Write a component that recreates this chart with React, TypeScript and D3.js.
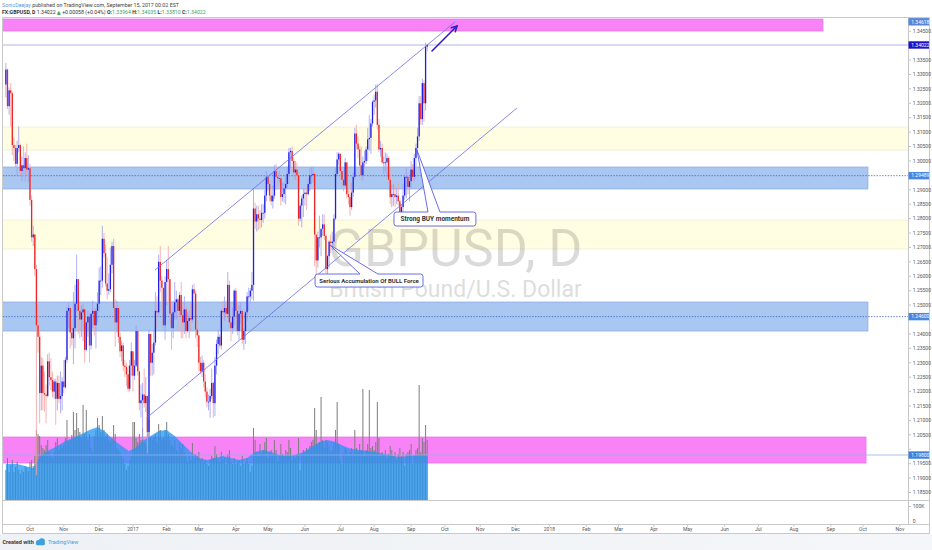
import React from "react";
import * as d3 from "d3";

const W = 932;
const H = 550;
const FONT = "Roboto, 'DejaVu Sans', sans-serif";

const pane = { left: 3, right: 908, top: 18, bottom: 500, sub: 524, axis: 533, frameRight: 929 };

// sessions: TradingView leaves out the two holiday Mondays
const firstSession = "2016-09-12";
const skippedSessions = ["2016-12-26", "2017-01-02"];

const firstOpen = 1.3265;
// FX:GBPUSD daily bars, one row per week, each bar [high, low, close]
const candleWeeks: [number, number, number][][] = [
  [[1.334, 1.322, 1.3317], [1.332, 1.318, 1.319], [1.3255, 1.316, 1.3245], [1.327, 1.312, 1.3235], [1.324, 1.302, 1.3055]],
  [[1.308, 1.3, 1.3045], [1.3055, 1.2975, 1.299], [1.307, 1.295, 1.3045], [1.312, 1.303, 1.3055], [1.306, 1.295, 1.2965]],
  [[1.3015, 1.293, 1.2985], [1.305, 1.2945, 1.2975], [1.303, 1.293, 1.301], [1.306, 1.295, 1.297], [1.302, 1.2925, 1.2975]],
  [[1.299, 1.2845, 1.2865], [1.288, 1.272, 1.2735], [1.2775, 1.2705, 1.2745], [1.2745, 1.26, 1.2625], [1.264, 1.191, 1.243]],
  [[1.2495, 1.2335, 1.239], [1.241, 1.209, 1.2195], [1.232, 1.2135, 1.229], [1.2315, 1.2135, 1.2195], [1.227, 1.213, 1.219]],
  [[1.2225, 1.209, 1.2185], [1.233, 1.218, 1.2305], [1.2335, 1.222, 1.225], [1.2315, 1.2205, 1.224], [1.227, 1.218, 1.22]],
  [[1.2245, 1.2175, 1.2235], [1.2245, 1.2085, 1.2175], [1.2255, 1.2135, 1.223], [1.2255, 1.216, 1.2175], [1.227, 1.2125, 1.2185]],
  [[1.225, 1.2135, 1.2235], [1.231, 1.2195, 1.2215], [1.232, 1.221, 1.231], [1.2495, 1.23, 1.248], [1.251, 1.242, 1.249]],
  [[1.2475, 1.235, 1.2405], [1.244, 1.236, 1.2385], [1.2545, 1.2295, 1.242], [1.257, 1.235, 1.2505], [1.2675, 1.2475, 1.259]],
  [[1.259, 1.24, 1.248], [1.251, 1.2385, 1.245], [1.25, 1.239, 1.2475], [1.2505, 1.2375, 1.2485], [1.249, 1.23, 1.2345]],
  [[1.2445, 1.234, 1.244], [1.248, 1.239, 1.246], [1.248, 1.23, 1.236], [1.247, 1.2345, 1.247], [1.2515, 1.242, 1.248]],
  [[1.2485, 1.2395, 1.243], [1.249, 1.235, 1.248], [1.2545, 1.244, 1.2505], [1.263, 1.2475, 1.2585], [1.2635, 1.2535, 1.2585]],
  [[1.2775, 1.256, 1.273], [1.275, 1.2665, 1.268], [1.271, 1.2565, 1.2575], [1.2665, 1.252, 1.255], [1.261, 1.2535, 1.2555]],
  [[1.27, 1.2545, 1.264], [1.272, 1.261, 1.2705], [1.273, 1.248, 1.249], [1.252, 1.2355, 1.244], [1.2515, 1.2405, 1.249]],
  [[1.25, 1.237, 1.239], [1.2405, 1.232, 1.234], [1.2375, 1.2305, 1.236], [1.237, 1.227, 1.229], [1.231, 1.225, 1.2285]],
  [[1.23, 1.222, 1.226], [1.229, 1.22, 1.221], [1.231, 1.22, 1.229], [1.237, 1.2255, 1.234]],
  [[1.2335, 1.22, 1.2255], [1.231, 1.224, 1.229], [1.243, 1.2285, 1.241], [1.2415, 1.2255, 1.227]],
  [[1.227, 1.2135, 1.216], [1.2225, 1.211, 1.217], [1.223, 1.2035, 1.219], [1.228, 1.2145, 1.216], [1.225, 1.213, 1.2185]],
  [[1.21, 1.1986, 1.206], [1.2415, 1.204, 1.24], [1.237, 1.2255, 1.23], [1.2365, 1.2255, 1.2335], [1.2415, 1.226, 1.237]],
  [[1.2545, 1.236, 1.248], [1.253, 1.242, 1.2475], [1.2675, 1.2465, 1.265], [1.2705, 1.2545, 1.2585], [1.26, 1.248, 1.256]],
  [[1.2555, 1.2415, 1.243], [1.26, 1.238, 1.258], [1.2655, 1.25, 1.2625], [1.2705, 1.2505, 1.259], [1.259, 1.243, 1.247]],
  [[1.2485, 1.2345, 1.242], [1.2515, 1.2385, 1.2475], [1.258, 1.245, 1.251], [1.255, 1.245, 1.252], [1.2525, 1.241, 1.248]],
  [[1.2545, 1.2465, 1.2535], [1.258, 1.2385, 1.2465], [1.251, 1.2385, 1.244], [1.253, 1.24, 1.2485], [1.2495, 1.2385, 1.241]],
  [[1.2475, 1.2405, 1.2445], [1.248, 1.2385, 1.2455], [1.2505, 1.241, 1.245], [1.257, 1.244, 1.2555], [1.2575, 1.2465, 1.254]],
  [[1.255, 1.2385, 1.2415], [1.245, 1.2355, 1.2395], [1.2415, 1.227, 1.23], [1.232, 1.226, 1.227], [1.2325, 1.225, 1.23]],
  [[1.231, 1.2215, 1.2235], [1.226, 1.218, 1.22], [1.2215, 1.2145, 1.2165], [1.219, 1.2135, 1.2165], [1.221, 1.211, 1.2185]],
  [[1.228, 1.2175, 1.223], [1.2235, 1.211, 1.216], [1.232, 1.2115, 1.229], [1.238, 1.226, 1.2365], [1.2415, 1.233, 1.239]],
  [[1.24, 1.235, 1.236], [1.2485, 1.2345, 1.248], [1.2515, 1.2445, 1.2475], [1.253, 1.2445, 1.249], [1.2515, 1.2455, 1.247]],
  [[1.2615, 1.2465, 1.257], [1.2585, 1.242, 1.244], [1.2465, 1.2375, 1.242], [1.249, 1.24, 1.246], [1.2555, 1.243, 1.255]],
  [[1.256, 1.2455, 1.248], [1.2505, 1.2395, 1.241], [1.25, 1.238, 1.247], [1.251, 1.2435, 1.248], [1.248, 1.2365, 1.238]],
  [[1.242, 1.2345, 1.241], [1.248, 1.2365, 1.2475], [1.2545, 1.2445, 1.253], [1.256, 1.248, 1.253], [1.256, 1.251, 1.255]],
  [[1.2615, 1.252, 1.257], [1.2905, 1.2515, 1.2835], [1.2855, 1.2765, 1.279], [1.2845, 1.2755, 1.2815], [1.2845, 1.276, 1.28]],
  [[1.283, 1.2765, 1.2795], [1.285, 1.277, 1.282], [1.285, 1.2785, 1.282], [1.29, 1.28, 1.288], [1.2965, 1.286, 1.2945]],
  [[1.2945, 1.2895, 1.292], [1.2935, 1.286, 1.288], [1.2905, 1.2845, 1.286], [1.2915, 1.2835, 1.288], [1.2985, 1.287, 1.2965]],
  [[1.299, 1.291, 1.2945], [1.296, 1.291, 1.294], [1.2965, 1.2925, 1.294], [1.2945, 1.2845, 1.2875], [1.2925, 1.286, 1.2885]],
  [[1.2925, 1.2855, 1.2905], [1.295, 1.285, 1.292], [1.298, 1.2905, 1.2955], [1.3045, 1.292, 1.303], [1.3045, 1.2975, 1.3035]],
  [[1.305, 1.296, 1.3], [1.3015, 1.2935, 1.296], [1.3, 1.2935, 1.297], [1.2995, 1.293, 1.295], [1.296, 1.2775, 1.28]],
  [[1.2855, 1.279, 1.2845], [1.288, 1.277, 1.287], [1.2905, 1.2805, 1.2885], [1.2905, 1.2845, 1.289], [1.291, 1.283, 1.2885]],
  [[1.294, 1.288, 1.292], [1.2975, 1.2895, 1.295], [1.298, 1.292, 1.295], [1.298, 1.2925, 1.2955], [1.296, 1.2635, 1.2745]],
  [[1.273, 1.259, 1.2655], [1.2755, 1.263, 1.2735], [1.281, 1.27, 1.2735], [1.276, 1.267, 1.2765], [1.2815, 1.274, 1.278]],
  [[1.2815, 1.2725, 1.274], [1.2745, 1.261, 1.2625], [1.2675, 1.259, 1.267], [1.2725, 1.263, 1.272], [1.2745, 1.268, 1.2715]],
  [[1.2755, 1.269, 1.272], [1.2815, 1.269, 1.28], [1.2975, 1.2795, 1.2955], [1.303, 1.295, 1.3005], [1.303, 1.2985, 1.3025]],
  [[1.3015, 1.2935, 1.2965], [1.2965, 1.291, 1.2935], [1.2975, 1.2895, 1.2915], [1.301, 1.291, 1.2995], [1.2995, 1.287, 1.2885]],
  [[1.2905, 1.285, 1.2875], [1.2935, 1.281, 1.284], [1.2925, 1.283, 1.289], [1.296, 1.2875, 1.2945], [1.3115, 1.2935, 1.3095]],
  [[1.3125, 1.304, 1.306], [1.3085, 1.301, 1.304], [1.305, 1.298, 1.2985], [1.305, 1.293, 1.295], [1.3015, 1.2935, 1.2995]],
  [[1.3035, 1.2975, 1.3], [1.305, 1.299, 1.304], [1.3115, 1.3, 1.3075], [1.316, 1.3035, 1.308], [1.3145, 1.3025, 1.313]],
  [[1.321, 1.312, 1.3205], [1.323, 1.316, 1.321], [1.3265, 1.3185, 1.324], [1.3267, 1.311, 1.3125], [1.3145, 1.303, 1.304]],
  [[1.307, 1.3015, 1.3045], [1.306, 1.299, 1.2995], [1.3015, 1.2955, 1.2995], [1.303, 1.2965, 1.2995], [1.3025, 1.2945, 1.301]],
  [[1.3015, 1.2925, 1.2935], [1.2975, 1.285, 1.2875], [1.2915, 1.284, 1.2885], [1.292, 1.2845, 1.2885], [1.2925, 1.284, 1.2875]],
  [[1.2905, 1.285, 1.288], [1.2925, 1.2845, 1.286], [1.2865, 1.2775, 1.2795], [1.285, 1.2785, 1.284], [1.292, 1.281, 1.288]],
  [[1.295, 1.2865, 1.2945], [1.2975, 1.287, 1.2945], [1.296, 1.2885, 1.291], [1.2945, 1.286, 1.293], [1.3, 1.2905, 1.297]],
  [[1.299, 1.293, 1.2945], [1.3025, 1.293, 1.301], [1.306, 1.298, 1.3045], [1.3115, 1.3035, 1.3085], [1.3225, 1.307, 1.32]],
  [[1.3225, 1.3125, 1.3145], [1.3285, 1.3125, 1.327], [1.328, 1.3135, 1.32], [1.341, 1.3175, 1.3396], [1.34035, 1.3381, 1.34022]],
];

// volume (thousands), same weeks
const volumeWeeks: number[][] = [
  [30, 42, 28, 35, 40], [28, 33, 38, 30, 26], [30, 28, 34, 32, 29], [38, 40, 34, 44, 70],
  [66, 64, 55, 52, 50], [55, 60, 48, 45, 42], [48, 58, 62, 50, 55], [52, 55, 62, 80, 58],
  [60, 65, 88, 70, 87], [72, 68, 62, 95, 66], [90, 60, 66, 52, 48], [64, 70, 82, 75, 68],
  [84, 70, 64, 66, 60], [58, 62, 75, 66, 52], [50, 48, 44, 42, 36], [30, 34, 40, 44],
  [78, 78, 62, 58], [66, 60, 72, 58, 56], [80, 80, 62, 60, 64], [66, 58, 76, 70, 60],
  [62, 70, 78, 66, 60], [56, 54, 60, 50, 48], [57, 52, 56, 48, 44], [38, 44, 40, 57, 42],
  [46, 44, 48, 40, 42], [38, 40, 36, 34, 40], [44, 42, 54, 46, 40], [38, 48, 40, 42, 36],
  [46, 50, 38, 36, 42], [36, 38, 40, 34, 44], [36, 38, 42, 36, 28], [34, 72, 60, 48, 44],
  [56, 46, 50, 58, 62], [42, 48, 50, 46, 60], [50, 38, 44, 56, 46], [44, 50, 48, 60, 52],
  [40, 44, 42, 46, 62], [30, 46, 50, 48, 52], [50, 54, 58, 60, 92], [70, 56, 58, 103, 60],
  [52, 60, 58, 54, 48], [50, 58, 70, 98, 56], [40, 36, 46, 52, 50], [44, 48, 52, 46, 70],
  [52, 48, 56, 50, 111], [44, 50, 56, 110, 52], [54, 50, 58, 98, 62], [44, 48, 46, 50, 42],
  [46, 54, 50, 44, 48], [40, 46, 52, 44, 48], [34, 46, 48, 50, 56], [36, 44, 50, 52, 115],
  [48, 62, 58, 75, 60],
];
// volume moving average, one value per week
const volumeMA = [
  36, 36, 34, 32, 45, 50, 54, 59, 62, 66, 70, 73, 68, 60, 54, 49, 52, 59, 64, 69, 70, 64, 56, 48, 42, 40,
  42, 44, 42, 40, 42, 48, 50, 48, 45, 44, 45, 48, 53, 58, 60, 58, 54, 51, 50, 49, 48, 46, 44, 43, 44, 45, 45,
];

const priceTicks = [
  1.185, 1.19, 1.195, 1.2, 1.205, 1.21, 1.215, 1.22, 1.225, 1.23, 1.235, 1.24, 1.245, 1.25, 1.255, 1.26, 1.265,
  1.27, 1.275, 1.28, 1.285, 1.29, 1.295, 1.3, 1.305, 1.31, 1.315, 1.32, 1.325, 1.33, 1.335, 1.34, 1.345,
];

const monthTicks = [
  { label: "Oct", date: "2016-10-03" }, { label: "Nov", date: "2016-11-01" }, { label: "Dec", date: "2016-12-01" },
  { label: "2017", date: "2017-01-03" }, { label: "Feb", date: "2017-02-01" }, { label: "Mar", date: "2017-03-01" },
  { label: "Apr", date: "2017-04-03" }, { label: "May", date: "2017-05-01" }, { label: "Jun", date: "2017-06-01" },
  { label: "Jul", date: "2017-07-03" }, { label: "Aug", date: "2017-08-01" }, { label: "Sep", date: "2017-09-01" },
  { label: "Oct", date: "2017-10-02" }, { label: "Nov", date: "2017-11-01" }, { label: "Dec", date: "2017-12-01" },
  { label: "2018", date: "2018-01-01" }, { label: "Feb", date: "2018-02-01" }, { label: "Mar", date: "2018-03-01" },
  { label: "Apr", date: "2018-04-02" }, { label: "May", date: "2018-05-01" }, { label: "Jun", date: "2018-06-01" },
  { label: "Jul", date: "2018-07-02" }, { label: "Aug", date: "2018-08-01" }, { label: "Sep", date: "2018-09-03" },
  { label: "Oct", date: "2018-10-01" }, { label: "Nov", date: "2018-11-01" },
];

// drawings, in bar index / price
const zones = [
  { from: -10, to: 508.1, top: 1.34923, bottom: 1.34507, fill: "#f883f6", stroke: "#ee6cec" },
  { from: -10, to: 700, top: 1.31177, bottom: 1.3038, fill: "#fffde2", stroke: "#eeeacb" },
  { from: -10, to: 536.1, top: 1.2979, bottom: 1.29027, fill: "#a9c7f0", stroke: "#86a8e2" },
  { from: -10, to: 700, top: 1.27951, bottom: 1.26946, fill: "#fffde2", stroke: "#eeeacb" },
  { from: -10, to: 536.1, top: 1.25107, bottom: 1.24101, fill: "#a9c7f0", stroke: "#86a8e2" },
  { from: -10, to: 534.9, top: 1.20425, bottom: 1.19523, fill: "#f883f6", stroke: "#ee6cec" },
];

const levels = [
  { price: 1.29489, dash: "1.4,1.4", color: "#3b63c4", tag: "#4a86df" },
  { price: 1.246, dash: "1.4,1.4", color: "#3b63c4", tag: "#4a86df" },
  { price: 1.198, dash: "", color: "#93b3ea", tag: "#3f80dd" },
];
const lastPrice = 1.34022;
const rectTag = { price: 1.34618, tag: "#5685db" };

const trendLines = [
  { a: [92.73, 1.26217], b: [279.3, 1.34819] },
  { a: [87.45, 1.21084], b: [317.8, 1.31836] },
];
const arrow = { a: [264.98, 1.33813], b: [280.53, 1.34681] };

const callouts = [
  { text: "Strong BUY momentum", size: 6.5, tip: [255.66, 1.30379], base: [262.5, 269.96], i0: 241.35, i1: 292.3, top: 1.28229, bottom: 1.27743 },
  { text: "Serious Accumulation Of BULL Force", size: 6, tip: [201.55, 1.27084], base: [220.2, 231.4], i0: 192.3, i1: 259.4, top: 1.26078, bottom: 1.25627 },
];

const DAY = 864e5;
const utc = (iso: string) => {
  const [yy, mm, dd] = iso.split("-").map(Number);
  return Date.UTC(yy, mm - 1, dd);
};
function sessionIndex(iso: string): number {
  const t = utc(iso);
  let n = 0;
  for (let u = utc(firstSession); u < t; u += DAY) {
    const wd = new Date(u).getUTCDay();
    if (wd !== 0 && wd !== 6) n++;
  }
  return n - skippedSessions.filter((s) => s < iso).length;
}

export default function App() {
  const x = d3.scaleLinear().domain([-1.79, 561]).range([pane.left, pane.right]);
  const y = d3.scaleLinear().domain([1.1824, 1.34958]).range([pane.bottom, pane.top]);
  const vy = d3.scaleLinear().domain([0, 100]).range([pane.bottom, pane.bottom - 100]);

  const rows = candleWeeks.flat();
  const bars = rows.map(([h, l, c], i) => ({ i, h, l, c, o: i === 0 ? firstOpen : rows[i - 1][2] }));
  const vols = volumeWeeks.flat();
  const last = bars.length - 1;

  const maPts: [number, number][] = [[0, volumeMA[0]]];
  let k = 0;
  volumeWeeks.forEach((wk, w) => {
    maPts.push([k + (wk.length - 1) / 2, volumeMA[w]]);
    k += wk.length;
  });
  maPts.push([last, volumeMA[volumeMA.length - 1]]);
  const maArea = d3
    .area<[number, number]>()
    .x((d) => x(d[0]))
    .y0(pane.bottom)
    .y1((d) => vy(d[1]))(maPts);

  const calloutPath = (c: typeof callouts[number]) => {
    const bx0 = x(c.i0), bx1 = x(c.i1), by0 = y(c.top), by1 = y(c.bottom);
    const r = 2.5;
    const tx = x(c.tip[0]), ty = y(c.tip[1]);
    const b1 = x(c.base[0]), b2 = x(c.base[1]);
    return `M${bx0 + r},${by0}L${b1},${by0}L${tx},${ty}L${b2},${by0}L${bx1 - r},${by0}Q${bx1},${by0} ${bx1},${by0 + r}` +
      `L${bx1},${by1 - r}Q${bx1},${by1} ${bx1 - r},${by1}L${bx0 + r},${by1}Q${bx0},${by1} ${bx0},${by1 - r}` +
      `L${bx0},${by0 + r}Q${bx0},${by0} ${bx0 + r},${by0}Z`;
  };

  const ax = x(arrow.a[0]), ay = y(arrow.a[1]), bx = x(arrow.b[0]), by = y(arrow.b[1]);
  const ang = Math.atan2(by - ay, bx - ax);
  const head = (s: number) => `${bx - 6 * Math.cos(ang + s)},${by - 6 * Math.sin(ang + s)}`;

  // price tags on the scale (one nudged up to clear the 1.34500 label, as TradingView shows it)
  const tags = [
    { price: rectTag.price, bg: rectTag.tag, dy: -6 },
    ...levels.map((l) => ({ price: l.price, bg: l.tag, dy: 0 })),
    { price: lastPrice, bg: "#1c12cc", dy: 0 },
  ];
  const tagY = (t: { price: number; dy: number }) => y(t.price) + t.dy;
  // regular scale labels hidden where a tag covers them
  const shownTicks = priceTicks.filter((p) => tags.every((t) => Math.abs(y(p) - tagY(t)) > 6.5));

  const green = "#3aa357";

  return (
    <div style={{ position: "absolute", left: 0, top: 0, width: W, height: H }}>
      <svg width={W} height={H} fontFamily={FONT} style={{ display: "block" }}>
        <defs>
          <clipPath id="pane">
            <rect x={pane.left} y={pane.top} width={pane.right - pane.left} height={pane.bottom - pane.top} />
          </clipPath>
          <linearGradient id="foot" x1="0" x2="1" y1="0" y2="0">
            <stop offset="0" stopColor="#eef1f5" />
            <stop offset="1" stopColor="#f4f6f9" />
          </linearGradient>
        </defs>
        <rect width={W} height={H} fill="#fff" />

        {/* header */}
        <text x={2} y={7.4} fontSize={5.3} fill="#444">
          <tspan fill="#5b9bd8">SonicDeejay</tspan> published on TradingView.com, September 15, 2017 00:02 EST
        </text>
        <text x={2} y={14.4} fontSize={5.2} fill="#333">
          <tspan fontWeight="bold">FX:GBPUSD, D</tspan> 1.34022 <tspan fill={green}>▲</tspan> +0.00058 (+0.04%){" "}
          <tspan fontWeight="bold">O:</tspan><tspan fill={green}>1.33964</tspan>{" "}
          <tspan fontWeight="bold">H:</tspan><tspan fill={green}>1.34035</tspan>{" "}
          <tspan fontWeight="bold">L:</tspan><tspan fill={green}>1.33810</tspan>{" "}
          <tspan fontWeight="bold">C:</tspan><tspan fill={green}>1.34022</tspan>
        </text>

        <g clipPath="url(#pane)">
          {zones.map((z, i) => (
            <rect
              key={i}
              x={x(z.from)}
              y={y(z.top)}
              width={x(z.to) - x(z.from)}
              height={y(z.bottom) - y(z.top)}
              fill={z.fill}
              stroke={z.stroke}
              strokeWidth={0.7}
            />
          ))}

          {/* watermark */}
          <text x={(pane.left + pane.right) / 2} y={266} textAnchor="middle" fontSize={52} fill="#000" opacity={0.14}>
            GBPUSD, D
          </text>
          <text x={(pane.left + pane.right) / 2} y={297} textAnchor="middle" fontSize={23} fill="#000" opacity={0.13}>
            British Pound/U.S. Dollar
          </text>

          {/* volume */}
          {vols.map((vv, i) => (
            <rect key={i} x={x(i) - 0.5} y={vy(vv)} width={1} height={pane.bottom - vy(vv)} fill="#7d7d7d" />
          ))}
          <path d={maArea ?? ""} fill="#2196f3" opacity={0.75} />

          {levels.map((l) => (
            <line key={l.price} x1={pane.left} x2={pane.right} y1={y(l.price)} y2={y(l.price)} stroke={l.color}
              strokeWidth={0.8} strokeDasharray={l.dash || undefined} />
          ))}
          <line x1={pane.left} x2={pane.right} y1={y(lastPrice)} y2={y(lastPrice)} stroke="#a2a2ec" strokeWidth={0.8} />

          {/* candles */}
          {bars.map((b) => {
            const up = b.c >= b.o;
            const yt = y(Math.max(b.o, b.c));
            const hgt = Math.max(0.8, Math.abs(y(b.o) - y(b.c)));
            return (
              <g key={b.i}>
                <line x1={x(b.i)} x2={x(b.i)} y1={y(b.h)} y2={y(b.l)} stroke={up ? "#9d9cf2" : "#f3a2a2"} strokeWidth={0.8} />
                <rect x={x(b.i) - 0.65} y={yt} width={1.3} height={hgt} fill={up ? "#1e1ee6" : "#ee2424"} />
              </g>
            );
          })}

          {trendLines.map((t, i) => (
            <line key={i} x1={x(t.a[0])} y1={y(t.a[1])} x2={x(t.b[0])} y2={y(t.b[1])} stroke="#6b6be8" strokeWidth={0.8} />
          ))}
          <g stroke="#2a1ecc" strokeWidth={1.5} fill="none" strokeLinecap="round">
            <line x1={ax} y1={ay} x2={bx} y2={by} />
            <path d={`M${head(0.5)}L${bx},${by}L${head(-0.5)}`} />
          </g>

          {callouts.map((c) => (
            <g key={c.text}>
              <path d={calloutPath(c)} fill="#fff" stroke="#5b5be0" strokeWidth={0.9} />
              <text x={(x(c.i0) + x(c.i1)) / 2} y={(y(c.top) + y(c.bottom)) / 2 + c.size * 0.36} textAnchor="middle"
                fontSize={c.size} fontWeight="bold" fill="#333">
                {c.text}
              </text>
            </g>
          ))}
        </g>

        {/* frame */}
        <g stroke="#c9c9c9" strokeWidth={1} fill="none">
          <line x1={2.5} x2={pane.frameRight + 0.5} y1={pane.top - 0.5} y2={pane.top - 0.5} />
          <line x1={2.5} x2={2.5} y1={pane.top - 0.5} y2={pane.axis + 0.5} />
          <line x1={pane.frameRight + 0.5} x2={pane.frameRight + 0.5} y1={pane.top - 0.5} y2={pane.axis + 0.5} />
          <line x1={pane.right + 0.5} x2={pane.right + 0.5} y1={pane.top - 0.5} y2={pane.sub + 0.5} />
          <line x1={2.5} x2={pane.frameRight + 0.5} y1={pane.bottom + 0.5} y2={pane.bottom + 0.5} />
          <line x1={2.5} x2={pane.frameRight + 0.5} y1={pane.sub + 0.5} y2={pane.sub + 0.5} />
          <line x1={2.5} x2={pane.frameRight + 0.5} y1={pane.axis + 0.5} y2={pane.axis + 0.5} />
        </g>

        {/* price axis */}
        {priceTicks.map((p) => (
          <line key={p} x1={pane.right + 1} x2={pane.right + 3} y1={y(p)} y2={y(p)} stroke="#999" strokeWidth={0.6} />
        ))}
        {shownTicks.map((p) => (
          <text key={p} x={pane.right + 4.8} y={y(p) + 1.8} fontSize={5} fill="#555">{p.toFixed(5)}</text>
        ))}
        {tags.map((t) => (
          <g key={t.price}>
            <rect x={pane.right + 0.5} y={tagY(t) - 3.7} width={20.5} height={7.4} fill={t.bg} />
            <text x={pane.right + 3.2} y={tagY(t) + 1.8} fontSize={5} fill="#fff">{t.price.toFixed(5)}</text>
          </g>
        ))}

        {/* lower pane scale */}
        <line x1={pane.right + 1} x2={pane.right + 3} y1={506.5} y2={506.5} stroke="#999" strokeWidth={0.6} />
        <text x={pane.right + 4.8} y={508.3} fontSize={5} fill="#555">100K</text>
        <text x={pane.right + 4.8} y={523} fontSize={5} fill="#555">0</text>

        {/* time axis */}
        {monthTicks.map((t, i) => {
          const tx = x(sessionIndex(t.date));
          return (
            <g key={i}>
              <line x1={tx} x2={tx} y1={pane.sub + 1} y2={pane.sub + 2.6} stroke="#999" strokeWidth={0.6} />
              <text x={tx} y={530.8} fontSize={5} fill="#555" textAnchor="middle">{t.label}</text>
            </g>
          );
        })}

        {/* footer */}
        <rect x={0} y={pane.axis + 1} width={W} height={H - pane.axis - 1} fill="url(#foot)" />
        <text x={2.5} y={544} fontSize={5.5} fontWeight="bold" fill="#3a3a3a">Created with</text>
        <g fill="#3ea0dc">
          <circle cx={38.5} cy={542.5} r={2.6} />
          <circle cx={41.8} cy={541.3} r={3.1} />
          <rect x={36} y={542.3} width={9} height={2.9} rx={1.4} />
        </g>
        <text x={48} y={544} fontSize={5.5} fill="#3e9ee0">TradingView</text>
      </svg>
    </div>
  );
}
